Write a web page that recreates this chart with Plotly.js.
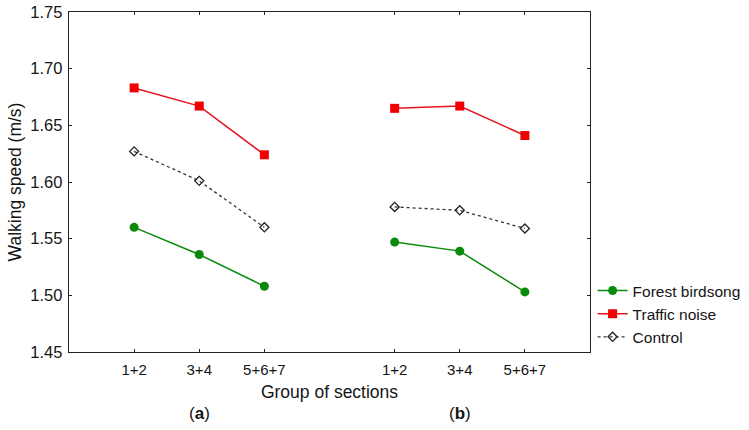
<!DOCTYPE html>
<html><head><meta charset="utf-8">
<script src="https://cdn.plot.ly/plotly-3.0.1.min.js"></script>
<style>body{margin:0;background:#fff}#chart{width:749px;height:430px}</style>
</head><body><div id="chart"></div>
<script>
const positions = [0, 1, 2, 4, 5, 6];
const tickLabels = ["1+2", "3+4", "5+6+7", "1+2", "3+4", "5+6+7"];
const forestBirdsong = [1.560, 1.536, 1.508, 1.547, 1.539, 1.503];
const trafficNoise = [1.683, 1.667, 1.624, 1.665, 1.667, 1.641];
const control = [1.627, 1.601, 1.560, 1.578, 1.575, 1.559];
const panelLabels = ["(<b>a</b>)", "(<b>b</b>)"];
const panelCenters = [1, 5];

function split(arr) {
  // insert a gap between panel (a) and panel (b)
  return { x: [positions[0], positions[1], positions[2], null, positions[3], positions[4], positions[5]],
           y: [arr[0], arr[1], arr[2], null, arr[3], arr[4], arr[5]] };
}
const f = split(forestBirdsong), t = split(trafficNoise), c = split(control);
const traces = [
  {x: f.x, y: f.y, name: "Forest birdsong", mode: "lines+markers",
   line: {color: "#0a8a0a", width: 1.5}, marker: {symbol: "circle", size: 9, color: "#0a8a0a"}},
  {x: t.x, y: t.y, name: "Traffic noise", mode: "lines+markers",
   line: {color: "#e8141c", width: 1.5}, marker: {symbol: "square", size: 9, color: "#f00000"}},
  {x: c.x, y: c.y, name: "Control", mode: "lines+markers",
   line: {color: "#333", width: 1.3, dash: "3px,3px"},
   marker: {symbol: "diamond-open", size: 7, color: "#222", line: {width: 1.3}}}
];
const fam = "Liberation Sans, Arial, sans-serif";
const ink = "#151515";
const layout = {
  width: 749, height: 430,
  margin: {l: 69, r: 159, t: 12, b: 78, autoexpand: false},
  paper_bgcolor: "#fff", plot_bgcolor: "#fff",
  font: {family: fam, color: ink},
  showlegend: true,
  legend: {x: 1.005, xanchor: "left", y: 0.112, yanchor: "middle", font: {size: 15.5, family: fam, color: ink},
           tracegroupgap: 0, itemwidth: 30, bgcolor: "rgba(0,0,0,0)"},
  xaxis: {range: [-1, 7], tickvals: positions, ticktext: tickLabels, showgrid: false, zeroline: false,
          showline: true, linecolor: "#222", linewidth: 1.3, mirror: "ticks", ticks: "inside", ticklen: 3,
          tickcolor: "#222", ticklabelstandoff: 4, tickfont: {size: 15, family: fam, color: ink},
          title: {text: "Group of sections", font: {size: 17.5, family: fam, color: ink}, standoff: 8}},
  yaxis: {range: [1.45, 1.75], dtick: 0.05, tickformat: ".2f", showgrid: false, zeroline: false,
          showline: true, linecolor: "#222", linewidth: 1.3, mirror: "ticks", ticks: "inside", ticklen: 3,
          tickcolor: "#222", ticklabelstandoff: 2, tickfont: {size: 16.5, family: fam, color: ink},
          title: {text: "Walking speed (m/s)", font: {size: 17.5, family: fam, color: ink}, standoff: 4}},
  annotations: panelLabels.map((txt, i) => ({
    x: panelCenters[i], xref: "x", y: -0.18, yref: "paper", yanchor: "middle",
    text: txt, showarrow: false, font: {size: 17, family: fam, color: ink}
  }))
};
Plotly.newPlot("chart", traces, layout, {displayModeBar: false, staticPlot: true});
</script></body></html>
